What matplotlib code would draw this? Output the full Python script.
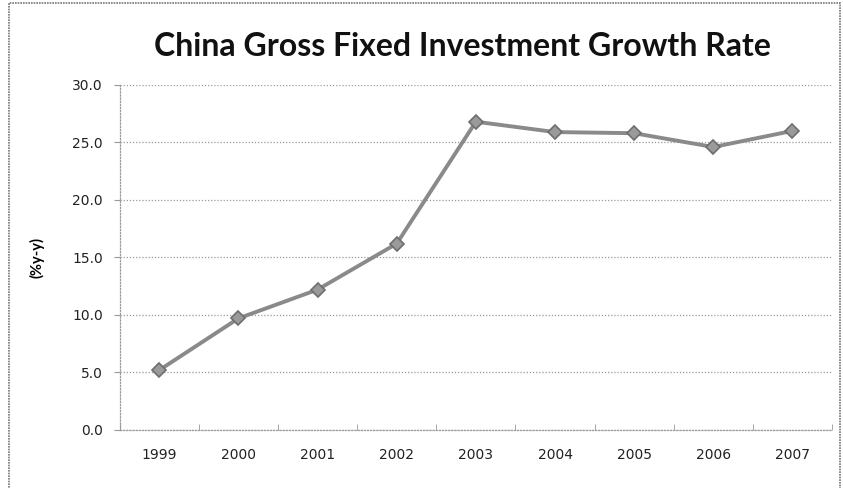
import matplotlib.pyplot as plt
from matplotlib.patches import Rectangle

years = ['1999', '2000', '2001', '2002', '2003', '2004', '2005', '2006', '2007']
growth = [5.2, 9.7, 12.2, 16.2, 26.8, 25.9, 25.8, 24.6, 26.0]
yticks = [0, 5, 10, 15, 20, 25, 30]

plt.rcParams['font.family'] = ['Lato', 'DejaVu Sans']

fig = plt.figure(figsize=(8.43, 4.88), dpi=100)
ax = fig.add_axes([0.142, 0.119, 0.845, 0.707])

x = list(range(len(years)))
ax.plot(x, growth, color='#8a8a8a', lw=2.8, marker='D', ms=7,
        markerfacecolor='#9a9a9a', markeredgecolor='#6e6e6e', markeredgewidth=1.2, zorder=3)

ax.set_xlim(-0.5, len(years) - 0.5)
ax.set_ylim(0, 30)
ax.set_yticks(yticks)
ax.set_yticklabels(['%.1f' % v for v in yticks], fontsize=10, color='#222222', family='DejaVu Sans')
ax.set_xticks(x)
ax.set_xticklabels(years, fontsize=10, color='#222222', family='DejaVu Sans')
ax.tick_params(axis='x', length=0, pad=13)
ax.tick_params(axis='y', length=4, color='#999999', pad=8)
# category separators on x axis
ax.set_xticks([i - 0.5 for i in range(len(years) + 1)], minor=True)
ax.tick_params(axis='x', which='minor', length=4, color='#999999', direction='in')

ax.grid(axis='y', color='#9a9a9a', linestyle=(0, (1, 1.5)), lw=0.9)
ax.set_axisbelow(True)
for s in ['top', 'right']:
    ax.spines[s].set_visible(False)
for s in ['left', 'bottom']:
    ax.spines[s].set_color('#9a9a9a')
    ax.spines[s].set_linestyle((0, (1, 1.5)))
    ax.spines[s].set_linewidth(0.9)

ax.set_ylabel('(%y-y)', fontsize=10.5, fontweight='bold', labelpad=20)
fig.text(0.548, 0.905, 'China Gross Fixed Investment Growth Rate',
         ha='center', va='center', fontsize=23, fontweight='bold', color='#111111')

fig.patches.append(Rectangle((0.011, -0.01), 0.985, 1.003, transform=fig.transFigure,
                             fill=False, edgecolor='#777777', lw=1.2, linestyle=(0, (1, 0.6))))

fig.savefig('out.png', dpi=100)
